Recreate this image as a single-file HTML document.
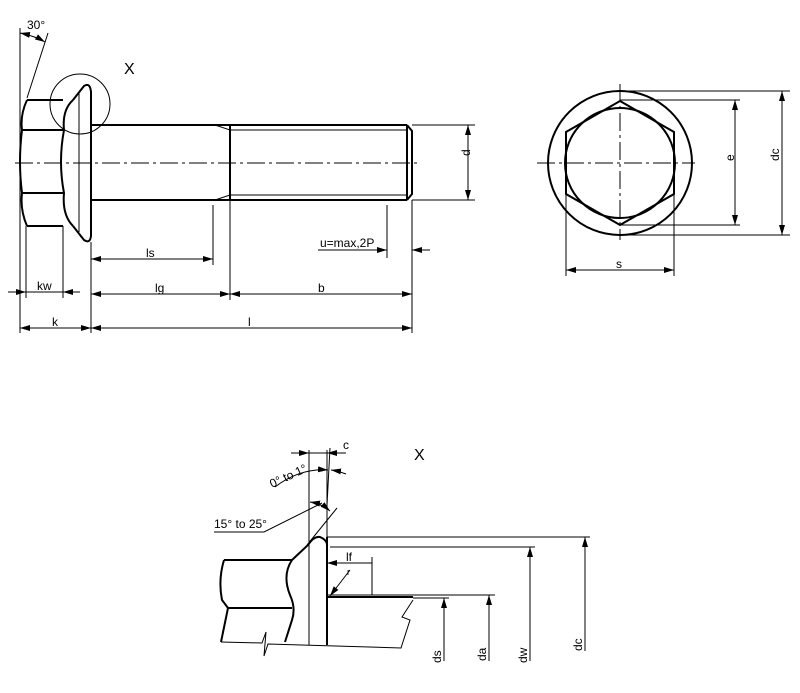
<!DOCTYPE html>
<html><head><meta charset="utf-8"><style>
html,body{margin:0;padding:0;background:#fff}
svg{display:block}
text{font-family:"Liberation Sans","DejaVu Sans",sans-serif;fill:#000}
</style></head><body>
<svg width="800" height="693" viewBox="0 0 800 693" xmlns="http://www.w3.org/2000/svg">
<defs>
<marker id="a" viewBox="0 0 10 6" refX="10" refY="3" markerWidth="10" markerHeight="6" orient="auto-start-reverse" markerUnits="userSpaceOnUse"><path d="M0,0L10,3L0,6z" fill="#000"/></marker>
</defs>
<g fill="none" stroke="#000">
<g stroke-width="2">
<path d="M27,100 H63 M27,226 H63"/>
<path d="M27,100 Q20,115 22,130 Q18,162 22,193 Q20,210 27,226"/>
<path d="M22,130 H63 M22,193 H63"/>
<path d="M73,100 Q62,110 64,130 Q58,162 64,193 Q62,215 73,226"/>
<path d="M73,100 L84,86 Q90,82 91,92 V236 Q90,244 84,240 L73,226"/>
<path d="M91,125 H407 M91,200 H407"/>
<path d="M230,125 V200"/>
<path d="M407,125 L412,131 V194 L407,200 M407,125 V200"/>
</g>
<g stroke-width="1">
<path d="M79,92 V232"/>
<path d="M215,125 L230,130 H407 M215,200 L230,195 H407"/>
<circle cx="80" cy="104" r="30"/>
<path d="M15,163 H420" stroke-dasharray="18,4,3,4"/>
<path d="M20,28 V333 M27,98 L48,33"/>
<path d="M20,33 Q35,36 45,42" marker-start="url(#a)" marker-end="url(#a)"/>
<path d="M91,242 V333 M230,200 V300 M412,200 V333 M213,205 V265 M387,205 V258 M26,226 V298 M63,226 V298"/>
<path d="M412,125 H475 M412,200 H475"/>
<path d="M468,125 V200" marker-start="url(#a)" marker-end="url(#a)"/>
<path d="M91,259 H213" marker-start="url(#a)" marker-end="url(#a)"/>
<path d="M91,294 H230" marker-start="url(#a)" marker-end="url(#a)"/>
<path d="M230,294 H412" marker-start="url(#a)" marker-end="url(#a)"/>
<path d="M91,328 H412" marker-start="url(#a)" marker-end="url(#a)"/>
<path d="M20,328 H91" marker-start="url(#a)" marker-end="url(#a)"/>
<path d="M8,292 H26" marker-end="url(#a)"/><path d="M80,292 H63" marker-end="url(#a)"/><path d="M26,292 H63"/>
<path d="M318,250 H387" marker-end="url(#a)"/><path d="M430,250 H412" marker-end="url(#a)"/>
<circle cx="620" cy="163" r="72" stroke-width="2"/>
<circle cx="620" cy="163" r="55" stroke-width="2"/>
<path d="M620,101 L674,132 L674,194 L620,225 L566,194 L566,132 Z" stroke-width="2"/>
<path d="M537,163 H695 M620,84 V240" stroke-dasharray="18,4,3,4"/>
<path d="M620,100 H740 M620,225 H740 M620,91 H790 M620,235 H790 M566,194 V276 M674,194 V276"/>
<path d="M735,100 V225" marker-start="url(#a)" marker-end="url(#a)"/>
<path d="M782,91 V235" marker-start="url(#a)" marker-end="url(#a)"/>
<path d="M566,270 H674" marker-start="url(#a)" marker-end="url(#a)"/>
<g stroke-width="2">
<path d="M327,537 V645"/>
<path d="M224,560 H292 M228,608 H292"/>
<path d="M224,560 Q218,580 222,600 L228,608 L221,642"/>
<path d="M292,560 Q282,575 290,595 Q296,608 292,620 L285,642"/>
<path d="M292,560 L308,545 Q314,536 320,537 Q327,540 327,545"/>
<path d="M327,597 H413"/>
</g>
<path d="M309,450 V645 M327,450 V537"/>
<path d="M221,642 L262,643 L266,632 L264,656 L268,644 L401,648 L410,620 L402,617 L413,600"/>
<path d="M307,545 L337,508"/>
<path d="M327,505 L330,448"/>
<path d="M291,453 H309" marker-end="url(#a)"/><path d="M346,453 H327" marker-end="url(#a)"/><path d="M309,453 H327"/>
<path d="M275,487 Q300,468 328,470" marker-end="url(#a)"/><path d="M346,474 Q338,471 331,470" marker-end="url(#a)"/>
<path d="M310,502 Q322,504 330,511" marker-start="url(#a)" marker-end="url(#a)"/>
<path d="M214,532 H264 L322,503"/>
<path d="M327,537 H590 M330,547 H535 M327,595 H495 M413,598 H449"/>
<path d="M372,557 V595"/>
<path d="M327,563 H372" marker-start="url(#a)"/>
<path d="M350,570 L330,596" marker-end="url(#a)"/>
<path d="M444,661 V598" marker-end="url(#a)"/>
<path d="M489,661 V595" marker-end="url(#a)"/>
<path d="M530,661 V547" marker-end="url(#a)"/>
<path d="M585,651 V537" marker-end="url(#a)"/>
</g>
</g>
<g font-size="12">
<text x="27" y="29">30°</text>
<text x="124" y="74" font-size="16">X</text>
<text x="146" y="257">ls</text>
<text x="155" y="292">lg</text>
<text x="318" y="292">b</text>
<text x="248" y="326">l</text>
<text x="52" y="326">k</text>
<text x="37" y="290">kw</text>
<text x="320" y="247">u=max,2P</text>
<text x="474" y="166" transform="rotate(-90 467 163)">d</text>
<text x="616" y="268">s</text>
<text x="733" y="166" transform="rotate(-90 731 163)">e</text>
<text x="778" y="166" transform="rotate(-90 776 163)">dc</text>
<text x="414" y="460" font-size="16">X</text>
<text x="343" y="449">c</text>
<text x="272" y="488" transform="rotate(-25 272 488)">0° to 1°</text>
<text x="214" y="528">15° to 25°</text>
<text x="346" y="561">lf</text>
<text x="347" y="575" font-size="9" fill="#777">r</text>
<text x="441" y="663" transform="rotate(-90 441 663)">ds</text>
<text x="486" y="661" transform="rotate(-90 486 661)">da</text>
<text x="527" y="663" transform="rotate(-90 527 663)">dw</text>
<text x="582" y="651" transform="rotate(-90 582 651)">dc</text>
</g>
</svg>
</body></html>
